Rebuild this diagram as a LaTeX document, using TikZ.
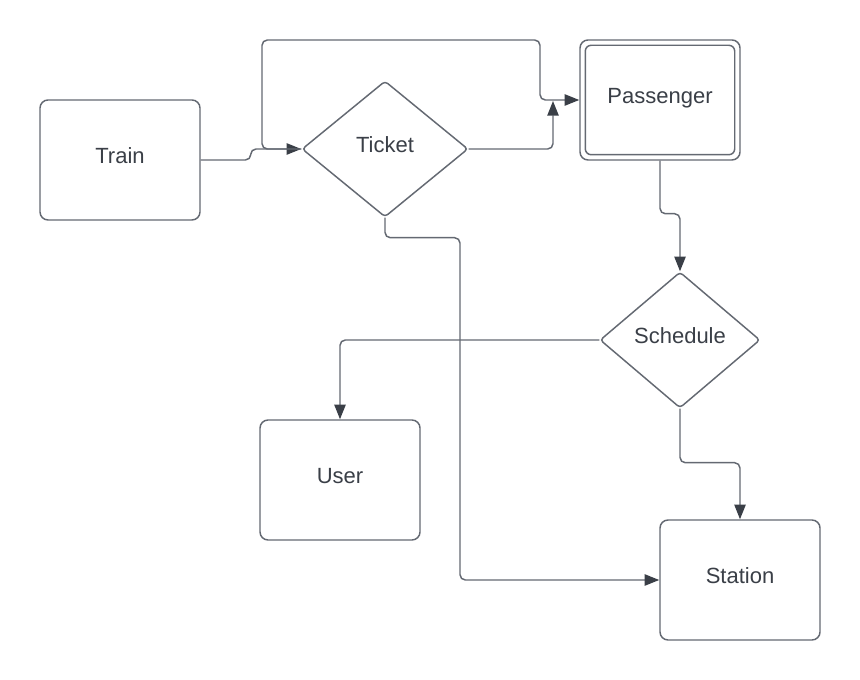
\documentclass[tikz,border=0pt]{standalone}
\usepackage{fontspec}
\setmainfont{Liberation Sans}
\usetikzlibrary{shapes.geometric,arrows.meta,calc}
\definecolor{linec}{RGB}{100,105,114}
\definecolor{darkc}{RGB}{58,63,71}
\tikzset{
  x=0.75pt,y=-0.75pt,
  boxline/.style={draw=linec,line width=1.1pt},
  labeltext/.style={font=\fontsize{16.5}{19}\selectfont,text=darkc,text height=12.5pt,text depth=7.5pt},
  entity/.style={boxline,labeltext,rectangle,rounded corners=6pt,minimum width=120pt,minimum height=90pt,inner sep=0pt},
  relation/.style={boxline,labeltext,diamond,rounded corners=2.5pt,inner sep=0pt,aspect=1},
  conn/.style={draw=linec,line width=1.1pt,rounded corners=4pt,
    -{Triangle[length=11pt,width=8.5pt,fill=darkc,color=darkc]}}
}
\begin{document}
\begin{tikzpicture}
\useasboundingbox (0,0) rectangle (860,680);
\fill[white] (0,0) rectangle (860,680);

\node[entity] (train) at (120,160) {Train};
\node[relation,minimum width=124.5pt,minimum height=102pt] (ticket) at (385,149) {Ticket};
\node[entity] (passenger) at (660,100) {Passenger};
\draw[boxline,rounded corners=4.5pt] ($(passenger.north west)+(6,6)$) rectangle ($(passenger.south east)+(-6,-6)$);
\node[relation,minimum width=120pt,minimum height=102pt] (schedule) at (680,340) {Schedule};
\node[entity] (user) at (340,480) {User};
\node[entity] (station) at (740,580) {Station};
\coordinate (join) at (553,101);

\draw[conn] (train.east) -- ++(50,0) |- (ticket.west);
\draw[conn] (ticket.west) -| (262,40) -| (540,100) -- (passenger.west);
\draw[conn] (ticket.east) -| (join);
\draw[conn] (passenger.south) -- ++(0,53) -| (schedule.north);
\draw[conn] (schedule.west) -| (user.north);
\draw[conn] (schedule.south) -- ++(0,54) -| (station.north);
\draw[conn] (ticket.south) -- ++(0,20) -- ++(75,0) |- (station.west);
\end{tikzpicture}
\end{document}
